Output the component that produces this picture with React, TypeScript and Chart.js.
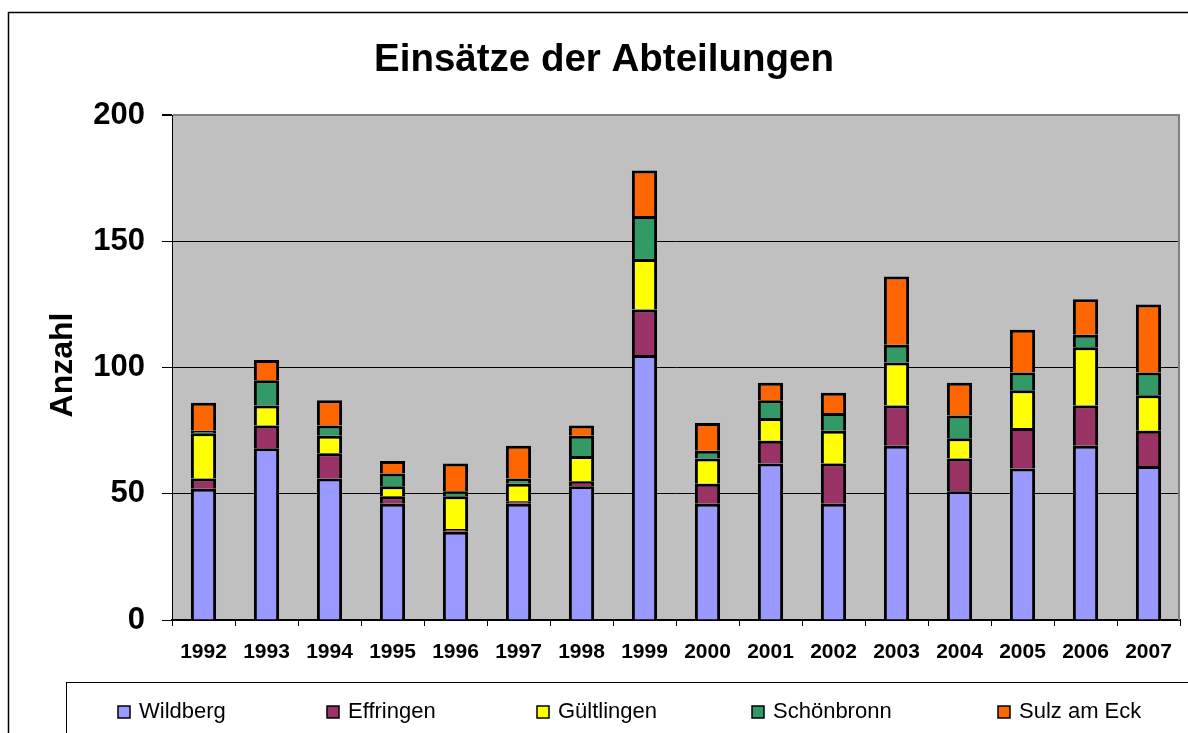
import React, { useEffect, useRef } from "react";
import { Chart, registerables } from "chart.js";

Chart.register(...registerables);

const years = ["1992", "1993", "1994", "1995", "1996", "1997", "1998", "1999", "2000", "2001", "2002", "2003", "2004", "2005", "2006", "2007"];
const wildberg = [52, 68, 56, 46, 35, 46, 53, 105, 46, 62, 46, 69, 51, 60, 69, 61];
const effringen = [4, 9, 10, 3, 1, 1, 2, 18, 8, 9, 16, 16, 13, 16, 16, 14];
const gueltlingen = [18, 8, 7, 4, 13, 7, 10, 20, 10, 9, 13, 17, 8, 15, 23, 14];
const schoenbronn = [1, 10, 4, 5, 2, 2, 8, 17, 3, 7, 7, 7, 9, 7, 5, 9];
const sulz = [11, 8, 10, 5, 11, 13, 4, 18, 11, 7, 8, 27, 13, 17, 14, 27];
const seriesNames = ["Wildberg", "Effringen", "Gültlingen", "Schönbronn", "Sulz am Eck"];
const seriesColors = ["#9999FF", "#993366", "#FFFF00", "#339966", "#FF6600"];
const titleText = "Einsätze der Abteilungen";
const yTitle = "Anzahl";

const FONT = "'Liberation Sans', Arial, Helvetica, sans-serif";

export default function App() {
  const ref = useRef<HTMLCanvasElement | null>(null);

  useEffect(() => {
    if (!ref.current) return;
    const seriesData = [wildberg, effringen, gueltlingen, schoenbronn, sulz];
    const legendX = [118, 327, 537, 752, 998];

    const decor = {
      id: "decor",
      beforeDraw(chart: any) {
        const ctx = chart.ctx;
        const a = chart.chartArea;
        ctx.save();
        ctx.fillStyle = "#FFFFFF";
        ctx.fillRect(0, 0, chart.width, chart.height);
        ctx.strokeStyle = "#000000";
        ctx.lineWidth = 1.5;
        ctx.strokeRect(8.5, 12.5, 1188, 760);
        ctx.fillStyle = "#C0C0C0";
        ctx.fillRect(a.left, a.top, a.right - a.left, a.bottom - a.top);
        ctx.lineWidth = 1;
        ctx.strokeStyle = "#000000";
        ctx.strokeRect(66.5, 682.5, 1200, 100);
        ctx.restore();
      },
      afterDraw(chart: any) {
        const ctx = chart.ctx;
        const a = chart.chartArea;
        ctx.save();
        ctx.strokeStyle = "#808080";
        ctx.lineWidth = 2;
        ctx.beginPath();
        ctx.moveTo(a.right - 1, a.top);
        ctx.lineTo(a.right - 1, a.bottom);
        ctx.stroke();
        ctx.fillStyle = "#000000";
        ctx.font = "bold 38.5px " + FONT;
        ctx.textAlign = "center";
        ctx.textBaseline = "alphabetic";
        ctx.fillText(titleText, 604, 71);
        ctx.save();
        ctx.translate(72, 365);
        ctx.rotate(-Math.PI / 2);
        ctx.font = "bold 32px " + FONT;
        ctx.textAlign = "center";
        ctx.textBaseline = "alphabetic";
        ctx.fillText(yTitle, 0, 0);
        ctx.restore();
        ctx.font = "22px " + FONT;
        ctx.textAlign = "left";
        ctx.textBaseline = "middle";
        for (let i = 0; i < seriesNames.length; i++) {
          const x = legendX[i];
          ctx.fillStyle = seriesColors[i];
          ctx.fillRect(x, 706, 12, 12);
          ctx.strokeStyle = "#000000";
          ctx.lineWidth = 1.5;
          ctx.strokeRect(x, 706, 12, 12);
          ctx.fillStyle = "#000000";
          ctx.fillText(seriesNames[i], x + 21, 712);
        }
        ctx.restore();
      },
    };

    const chart = new Chart(ref.current, {
      type: "bar",
      data: {
        labels: years,
        datasets: seriesNames.map((name, i) => ({
          label: name,
          data: seriesData[i],
          backgroundColor: seriesColors[i],
          borderColor: "#000000",
          borderWidth: 3,
          borderSkipped: "start",
          categoryPercentage: 1,
          barPercentage: 0.4,
        })),
      },
      options: {
        responsive: false,
        devicePixelRatio: 1,
        animation: false,
        layout: { padding: { left: 0, top: 115, right: 8, bottom: 0 } },
        plugins: {
          legend: { display: false },
          title: { display: false },
          tooltip: { enabled: false },
        },
        scales: {
          x: {
            stacked: true,
            offset: true,
            grid: {
              display: true,
              offset: true,
              drawOnChartArea: false,
              drawTicks: true,
              tickLength: 6,
              tickColor: "#000000",
              color: "#000000",
            },
            border: { display: true, color: "#000000", width: 2 },
            ticks: {
              color: "#000000",
              font: { family: FONT, size: 21, weight: "bold" },
              padding: 14,
              maxRotation: 0,
              autoSkip: false,
            },
            afterFit: (s: any) => {
              s.height = 113;
            },
          },
          y: {
            stacked: true,
            min: 0,
            max: 200,
            grid: {
              display: true,
              drawTicks: true,
              tickLength: 10,
              tickColor: "#000000",
              color: (c: any) => (c.tick && c.tick.value === 200 ? "#808080" : "#000000"),
              lineWidth: (c: any) => (c.tick && c.tick.value === 200 ? 2 : 1),
            },
            border: { display: true, color: "#000000", width: 1 },
            ticks: {
              stepSize: 50,
              color: "#000000",
              font: { family: FONT, size: 31, weight: "bold" },
              padding: 17,
            },
            afterFit: (s: any) => {
              s.width = 172;
            },
          },
        },
      },
      plugins: [decor],
    } as any);

    return () => chart.destroy();
  }, []);

  return (
    <div style={{ position: "absolute", left: 0, top: 0, width: 1188, height: 733 }}>
      <canvas ref={ref} width={1188} height={733} style={{ width: 1188, height: 733, display: "block" }} />
    </div>
  );
}
